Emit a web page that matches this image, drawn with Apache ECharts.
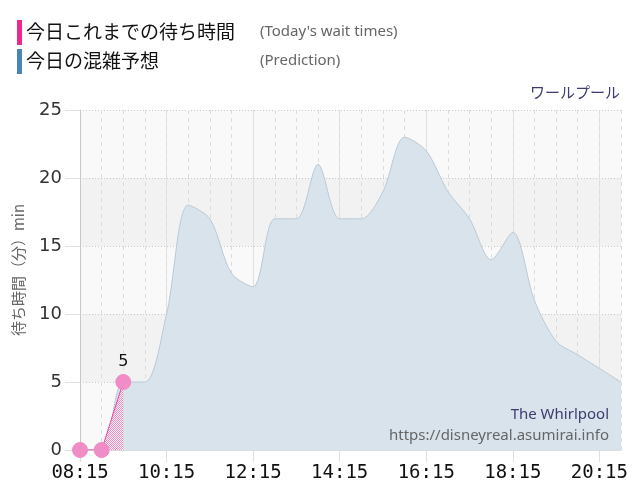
<!DOCTYPE html>
<html>
<head>
<meta charset="utf-8">
<script src="https://cdn.jsdelivr.net/npm/echarts@6/dist/echarts.min.js"></script>
<style>
html,body{margin:0;padding:0;background:#fff;}
#chart{width:640px;height:500px;}
</style>
</head>
<body>
<div id="chart"></div>
<script>
// ---- data ----
const times = ['08:15','08:45','09:15','09:45','10:15','10:45','11:15','11:45','12:15','12:45','13:15','13:45','14:15','14:45','15:15','15:45','16:15','16:45','17:15','17:45','18:15','18:45','19:15','19:45','20:15','20:45'];
const prediction = [0,0,5,5,10,18,17,13,12,17,17,21,17,17,19,23,22,19,17,14,16,11,8,7,6,5];
const actual = [0,0,5];
const yTicks = [0,5,10,15,20,25];
const legendJa = ['今日これまでの待ち時間','今日の混雑予想'];
const legendEn = ["(Today's wait times)",'(Prediction)'];
const attractionName = 'ワールプール';
const attractionEn = 'The Whirlpool';
const siteUrl = 'https://disneyreal.asumirai.info';
const yAxisTitle = '待ち時間（分）min';

// pink dotted pattern
const pc = document.createElement('canvas');
pc.width = 2; pc.height = 2;
const g = pc.getContext('2d');
g.fillStyle = 'rgba(248,244,246,0.92)';
g.fillRect(0,0,2,2);
g.fillStyle = '#f48cc2';
g.fillRect(0,0,1,1);
g.fillRect(1,1,1,1);

const actualData = actual.map((v,i)=> i === actual.length-1
  ? {value:v, label:{show:true}} : v);

const chart = echarts.init(document.getElementById('chart'), null, {renderer:'canvas'});
const jaFont = '"Noto Sans CJK JP", "Noto Sans", sans-serif';
const enFont = '"Noto Sans", "DejaVu Sans", sans-serif';

chart.setOption({
  animation:false,
  backgroundColor:'#ffffff',
  grid:{left:80, right:19, top:110, bottom:50, containLabel:false},
  xAxis:[{
    type:'category', data:times, boundaryGap:false,
    axisLine:{show:true, lineStyle:{color:'#dcdcdc'}},
    axisTick:{show:true, interval:3, length:12, lineStyle:{color:'#dedede'}},
    axisLabel:{interval:3, margin:14, fontSize:19, color:'#111', fontFamily:'"DejaVu Sans Mono", monospace'},
    splitLine:{show:true, interval:3, lineStyle:{color:'#e2e2e2', type:'solid', width:1}}
  },{
    type:'category', data:times, boundaryGap:false, position:'bottom',
    axisLine:{show:false}, axisTick:{show:false}, axisLabel:{show:false},
    splitLine:{show:true, interval:0, lineStyle:{color:'#dcdcdc', type:[4,4], width:1}}
  }],
  yAxis:{
    type:'value', min:0, max:25, interval:5,
    axisLine:{show:true, lineStyle:{color:'#c8c8c8'}},
    axisTick:{show:true, length:15, lineStyle:{color:'#e0e0e0'}},
    axisLabel:{margin:18, fontSize:18, color:'#333', fontFamily:'"DejaVu Sans", sans-serif'},
    splitLine:{show:true, lineStyle:{color:'#c9c9c9', type:[1,2]}},
    splitArea:{show:true, areaStyle:{color:['#f9f9f9','#f2f2f2']}}
  },
  series:[{
    type:'line', name:'prediction', data:prediction,
    smooth:0.3, symbol:'none',
    lineStyle:{color:'#b9c9d6', width:1},
    areaStyle:{color:'#d9e3eb', opacity:1},
    z:2
  },{
    type:'line', name:'actual', data:actualData,
    symbol:'circle', symbolSize:15, showSymbol:true, showAllSymbol:true,
    itemStyle:{color:'#f08cc6', borderColor:'#f08cc6'},
    lineStyle:{color:'#f0429e', width:1},
    areaStyle:{color:{image:pc, repeat:'repeat'}, opacity:1},
    label:{show:false, position:'top', distance:4, fontSize:16, color:'#111', fontFamily:'"DejaVu Sans", sans-serif'},
    z:3
  }],
  graphic:[
    {type:'rect', left:17, top:20, shape:{width:5, height:25}, style:{fill:'#f0288e'}},
    {type:'rect', left:17, top:49, shape:{width:5, height:25}, style:{fill:'#4a85b9'}},
    {type:'text', x:26, y:32, style:{text:legendJa[0], font:'19px '+jaFont, fill:'#111', textVerticalAlign:'middle'}},
    {type:'text', x:26, y:61, style:{text:legendJa[1], font:'19px '+jaFont, fill:'#111', textVerticalAlign:'middle'}},
    {type:'text', x:260, y:32, style:{text:legendEn[0], font:'15px '+enFont, fill:'#666', textVerticalAlign:'middle'}},
    {type:'text', x:260, y:61, style:{text:legendEn[1], font:'15px '+enFont, fill:'#666', textVerticalAlign:'middle'}},
    {type:'text', x:620, y:92, style:{text:attractionName, font:'15px '+jaFont, fill:'#3c3c6e', textAlign:'right', textVerticalAlign:'middle'}},
    {type:'text', x:609, y:415, z:10, style:{text:attractionEn, font:'15px '+enFont, fill:'#3c3c6e', textAlign:'right', textVerticalAlign:'middle'}},
    {type:'text', x:609, y:436, z:10, style:{text:siteUrl, font:'15px '+enFont, fill:'#666', textAlign:'right', textVerticalAlign:'middle'}},
    {type:'text', x:18, y:270, rotation:Math.PI/2, style:{text:yAxisTitle, font:'15px '+jaFont, fill:'#666', textAlign:'center', textVerticalAlign:'middle'}}
  ]
});
</script>
</body>
</html>
